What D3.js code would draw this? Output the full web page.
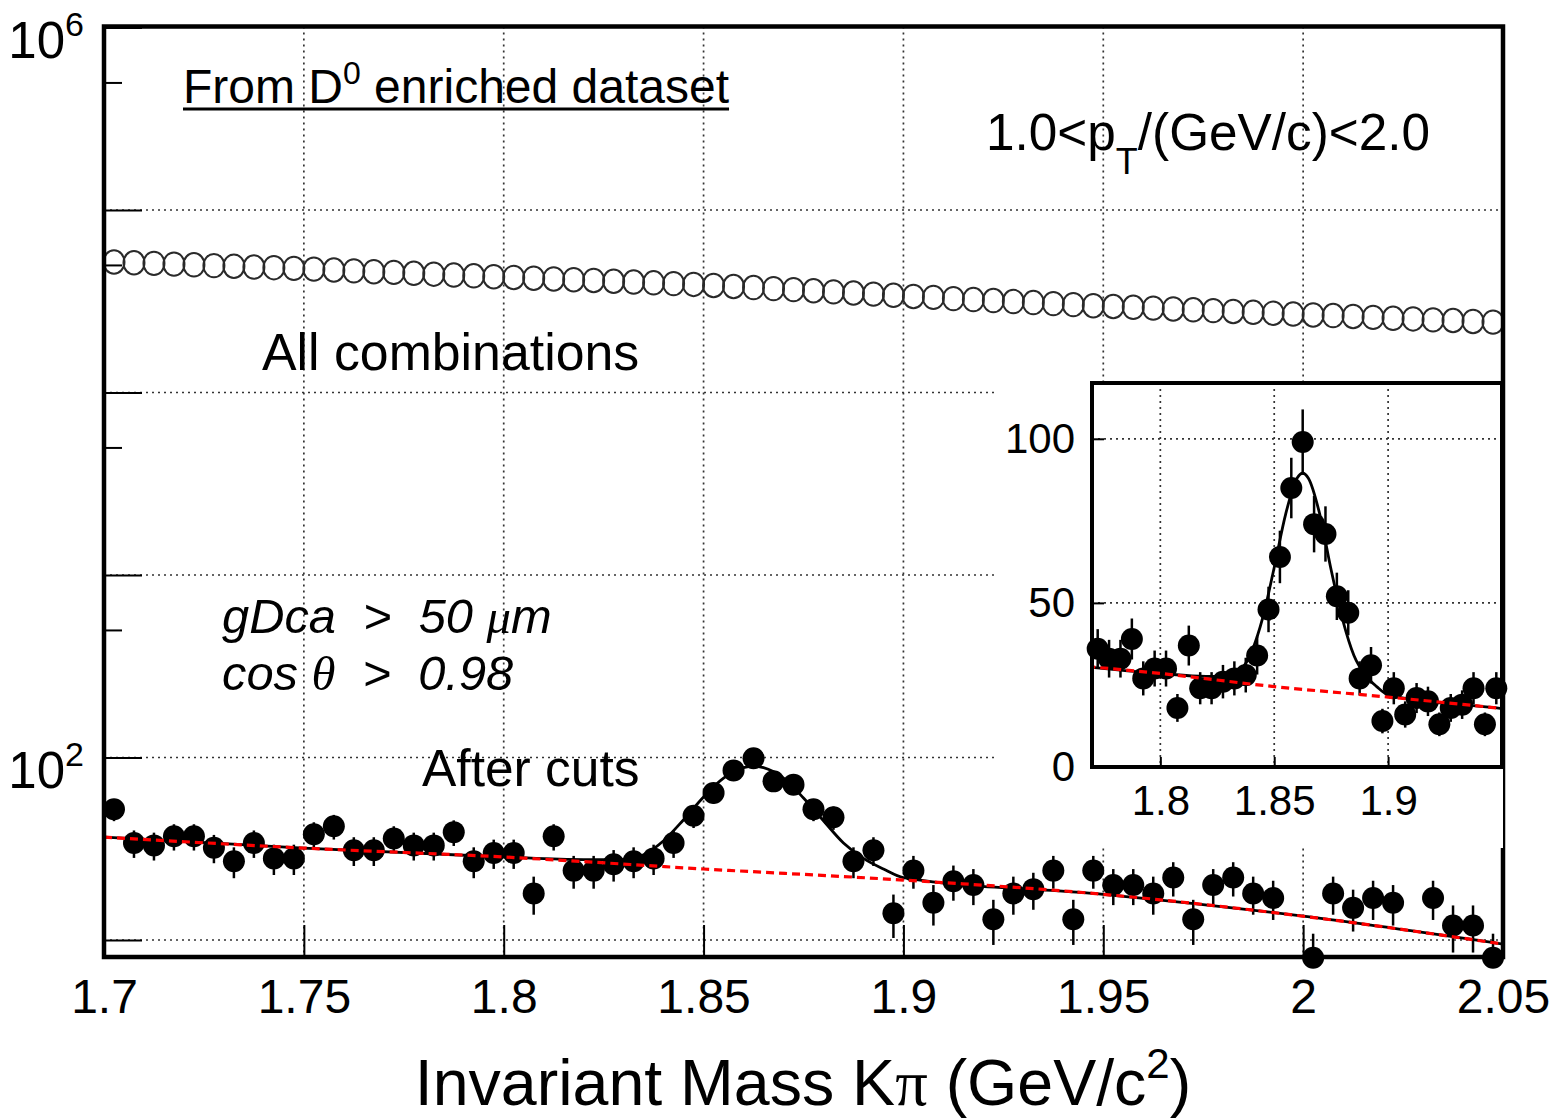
<!DOCTYPE html>
<html>
<head>
<meta charset="utf-8">
<script src="https://cdn.jsdelivr.net/npm/d3@7"></script>
<style>
body { margin: 0; background: #fff; }
text { font-family: "Liberation Sans", Arial, Helvetica, sans-serif; fill: #000; }
</style>
</head>
<body>
<svg width="1566" height="1118"></svg>
<script>
// bin centres, GeV/c^2 (0.005 wide bins)
var massBins = [
  1.7025, 1.7075, 1.7125, 1.7175, 1.7225, 1.7275, 1.7325, 1.7375, 1.7425, 1.7475,
  1.7525, 1.7575, 1.7625, 1.7675, 1.7725, 1.7775, 1.7825, 1.7875, 1.7925, 1.7975,
  1.8025, 1.8075, 1.8125, 1.8175, 1.8225, 1.8275, 1.8325, 1.8375, 1.8425, 1.8475,
  1.8525, 1.8575, 1.8625, 1.8675, 1.8725, 1.8775, 1.8825, 1.8875, 1.8925, 1.8975,
  1.9025, 1.9075, 1.9125, 1.9175, 1.9225, 1.9275, 1.9325, 1.9375, 1.9425, 1.9475,
  1.9525, 1.9575, 1.9625, 1.9675, 1.9725, 1.9775, 1.9825, 1.9875, 1.9925, 1.9975,
  2.0025, 2.0075, 2.0125, 2.0175, 2.0225, 2.0275, 2.0325, 2.0375, 2.0425, 2.0475
];

// open circles: all K-pi combinations
var allCombos = [
  51900, 51400, 51000, 50500, 50100, 49600, 49200, 48700, 48300, 47900,
  47400, 46900, 46400, 45900, 45500, 45000, 44500, 44000, 43600, 43100,
  42700, 42300, 41900, 41500, 41100, 40700, 40300, 39900, 39500, 39100,
  38600, 38100, 37600, 37100, 36600, 36100, 35600, 35100, 34600, 34100,
  33600, 33200, 32700, 32300, 31900, 31500, 31100, 30700, 30300, 29900,
  29600, 29300, 29000, 28700, 28400, 28100, 27800, 27500, 27200, 26900,
  26600, 26400, 26100, 25800, 25500, 25300, 25000, 24800, 24500, 24300
];

// filled points: after cuts (null = empty bin)
var afterCuts = [
  52, 34, 33, 37, 37, 32, 27, 34, 28, 28,
  38, 42, 31, 31, 36, 33, 33, 39, 27, 30,
  30, 18, 37, 24, 24, 26, 27, 28, 34, 48,
  64, 85, 99, 74, 71, 52, 47, 27, 31, 14,
  24, 16, 21, 20, 13, 18, 19, 24, 13, 24,
  20, 20, 18, 22, 13, 20, 22, 18, 17, null,
  8, 18, 15, 17, 16, null, 17, 12, 12, 8
];

// fit curves
var fitMass  = [1.70, 1.75, 1.80, 1.82, 1.83, 1.835, 1.84, 1.845, 1.85, 1.855, 1.86, 1.8625, 1.865, 1.87, 1.875, 1.88, 1.885, 1.89, 1.895, 1.90, 1.95, 2.00, 2.05];
var fitTotal = [36.6, 31.9, 28.5, 27.6, 27.6, 29.3, 35, 45.6, 60.8, 77, 88, 89.5, 88, 77, 60, 45, 34, 28, 24.5, 22, 17.8, 13.5, 9.5];
var bgMass = [1.70, 1.75, 1.80, 1.85, 1.90, 1.95, 2.00, 2.05];
var bgVals = [36.6, 31.9, 28.5, 24.5, 21.3, 17.8, 13.5, 9.5];

var xTicks = [1.7, 1.75, 1.8, 1.85, 1.9, 1.95, 2, 2.05];
var xTickLabels = ["1.7", "1.75", "1.8", "1.85", "1.9", "1.95", "2", "2.05"];
var yMajor = [1e1, 1e2, 1e3, 1e4, 1e5, 1e6];
var yMinor = [5e1, 5e2, 5e3, 5e4, 5e5];
var yLabelled = [{v: 1e6, base: "10", exp: "6"}, {v: 1e2, base: "10", exp: "2"}];
var insetXTicks = [1.8, 1.85, 1.9];
var insetYTicks = [0, 50, 100];

var svg = d3.select("svg");
var frame = {left: 104, right: 1503, top: 26.5, bottom: 957};
var ins = {left: 1092, right: 1502, top: 383, bottom: 767};

var x = d3.scaleLinear().domain([1.7, 2.05]).range([frame.left, frame.right]);
var y = d3.scaleLog().domain([8.07, 1e6]).range([frame.bottom, 27.5]);
var xi = d3.scaleLinear().domain([1.77, 1.95]).range([ins.left, ins.right]);
var yi = d3.scaleLinear().domain([0, 117]).range([ins.bottom, ins.top]);

var points = massBins.map(function(m, i) { return {m: m, all: allCombos[i], cut: afterCuts[i]}; });
var cutPoints = points.filter(function(d) { return d.cut != null; });
var fitData = fitMass.map(function(m, i) { return {m: m, v: fitTotal[i]}; });
var bgData = bgMass.map(function(m, i) { return {m: m, v: bgVals[i]}; });

var defs = svg.append("defs");
defs.append("clipPath").attr("id", "mainClip").append("rect")
    .attr("x", frame.left).attr("y", frame.top)
    .attr("width", frame.right - frame.left).attr("height", frame.bottom - frame.top);
defs.append("clipPath").attr("id", "insClip").append("rect")
    .attr("x", ins.left).attr("y", ins.top)
    .attr("width", ins.right - ins.left).attr("height", ins.bottom - ins.top);

var gridStyle = function(sel) {
  sel.attr("stroke", "#333").attr("stroke-width", 1.7).attr("stroke-dasharray", "2,4");
};

// ---- main grid
var g = svg.append("g");
g.selectAll(".vgrid").data(xTicks.slice(1, -1)).enter().append("line")
    .attr("x1", function(d) { return x(d); }).attr("x2", function(d) { return x(d); })
    .attr("y1", frame.top).attr("y2", frame.bottom)
    .call(gridStyle);
g.selectAll(".hgrid").data(yMajor.slice(0, -1)).enter().append("line")
    .attr("x1", frame.left).attr("x2", frame.right)
    .attr("y1", function(d) { return y(d); }).attr("y2", function(d) { return y(d); })
    .call(gridStyle);

// ---- main axes (ticks inward)
var xAxis = g.append("g")
    .attr("transform", "translate(0," + frame.bottom + ")")
    .call(d3.axisBottom(x).tickValues(xTicks).tickSize(-32).tickPadding(22)
      .tickFormat(function(d, i) { return xTickLabels[i]; }));
xAxis.select(".domain").remove();
xAxis.selectAll("line").attr("stroke-width", 2);
xAxis.selectAll("text").attr("font-size", 48).attr("font-family", "Liberation Sans, Arial, sans-serif");

var yAxis = g.append("g")
    .attr("transform", "translate(" + frame.left + ",0)")
    .call(d3.axisLeft(y).tickValues(yMajor).tickSize(-38).tickFormat(""));
yAxis.select(".domain").remove();
yAxis.selectAll("line").attr("stroke-width", 2);
var yAxisMinor = g.append("g")
    .attr("transform", "translate(" + frame.left + ",0)")
    .call(d3.axisLeft(y).tickValues(yMinor).tickSize(-18).tickFormat(""));
yAxisMinor.select(".domain").remove();
yAxisMinor.selectAll("line").attr("stroke-width", 2);

var yl = g.selectAll(".ylab").data(yLabelled).enter().append("text")
    .attr("x", 84).attr("y", function(d) { return y(d.v) + 30; })
    .attr("text-anchor", "end").attr("font-size", 51);
yl.append("tspan").text(function(d) { return d.base; });
yl.append("tspan").attr("dy", -22).attr("font-size", 34).text(function(d) { return d.exp; });

// ---- open circles
g.append("g").selectAll("ellipse").data(points).enter().append("ellipse")
    .attr("cx", function(d) { return x(d.m); })
    .attr("cy", function(d) { return y(d.all); })
    .attr("rx", 10.5).attr("ry", 11.7)
    .attr("fill", "none").attr("stroke", "#2a2a2a").attr("stroke-width", 2);

// ---- filled points with poisson error bars
g.append("g").attr("clip-path", "url(#mainClip)")
  .selectAll("line").data(cutPoints).enter().append("line")
    .attr("x1", function(d) { return x(d.m); }).attr("x2", function(d) { return x(d.m); })
    .attr("y1", function(d) { return y(Math.max(d.cut - Math.sqrt(d.cut), 1)); })
    .attr("y2", function(d) { return y(d.cut + Math.sqrt(d.cut)); })
    .attr("stroke", "#000").attr("stroke-width", 2.5);
g.append("g").selectAll("circle").data(cutPoints).enter().append("circle")
    .attr("cx", function(d) { return x(d.m); })
    .attr("cy", function(d) { return y(d.cut); })
    .attr("r", 11).attr("fill", "#000");

// ---- fit curves
var fitLine = d3.line().x(function(d) { return x(d.m); }).y(function(d) { return y(d.v); }).curve(d3.curveMonotoneX);
var curves = g.append("g").attr("clip-path", "url(#mainClip)");
curves.append("path").datum(fitData).attr("d", fitLine)
    .attr("fill", "none").attr("stroke", "#000").attr("stroke-width", 2.8);
curves.append("path").datum(bgData).attr("d", fitLine)
    .attr("fill", "none").attr("stroke", "#f00").attr("stroke-width", 3.2).attr("stroke-dasharray", "8,5");

// ---- frame
g.append("rect")
    .attr("x", frame.left).attr("y", frame.top)
    .attr("width", frame.right - frame.left).attr("height", frame.bottom - frame.top)
    .attr("fill", "none").attr("stroke", "#000").attr("stroke-width", 4.5);

// ---- labels
var t1 = svg.append("text").attr("x", 183).attr("y", 103).attr("font-size", 48);
t1.append("tspan").text("From D");
t1.append("tspan").attr("dy", -19).attr("font-size", 32).text("0");
t1.append("tspan").attr("dy", 19).text(" enriched dataset");
var t1w = t1.node().getComputedTextLength();
svg.append("line").attr("x1", 183).attr("x2", 183 + t1w).attr("y1", 109).attr("y2", 109)
    .attr("stroke", "#000").attr("stroke-width", 3);

var t2 = svg.append("text").attr("x", 986).attr("y", 150).attr("font-size", 51.3);
t2.append("tspan").text("1.0<p");
t2.append("tspan").attr("dy", 24).attr("font-size", 36).text("T");
t2.append("tspan").attr("dy", -24).text("/(GeV/c)<2.0");

svg.append("text").attr("x", 262).attr("y", 370).attr("font-size", 51.8).text("All combinations");
svg.append("text").attr("x", 422).attr("y", 786).attr("font-size", 51.5).text("After cuts");

var t3 = svg.append("text").attr("x", 222).attr("y", 633).attr("font-size", 48.8).attr("font-style", "italic")
    .attr("xml:space", "preserve");
t3.append("tspan").text("gDca  >  50 ");
t3.append("tspan").attr("font-family", "Liberation Serif, serif").text("\u03bc");
t3.append("tspan").text("m");
var t4 = svg.append("text").attr("x", 222).attr("y", 690).attr("font-size", 48.8).attr("font-style", "italic")
    .attr("xml:space", "preserve");
t4.append("tspan").text("cos ");
t4.append("tspan").attr("font-family", "Liberation Serif, serif").text("\u03b8");
t4.append("tspan").text("  >  0.98");

var xt = svg.append("text").attr("x", 803).attr("y", 1105).attr("font-size", 64.5).attr("text-anchor", "middle");
xt.append("tspan").text("Invariant Mass K");
xt.append("tspan").attr("font-family", "Liberation Serif, serif").text("\u03c0");
xt.append("tspan").text(" (GeV/c");
xt.append("tspan").attr("dy", -27).attr("font-size", 42).text("2");
xt.append("tspan").attr("dy", 27).text(")");

// ---- inset
var gi = svg.append("g");
gi.append("rect").attr("x", 997).attr("y", 381).attr("width", 1503 - 997).attr("height", 848 - 381).attr("fill", "#fff");
gi.selectAll(".ivgrid").data(insetXTicks).enter().append("line")
    .attr("x1", function(d) { return xi(d); }).attr("x2", function(d) { return xi(d); })
    .attr("y1", ins.top).attr("y2", ins.bottom).call(gridStyle);
gi.selectAll(".ihgrid").data(insetYTicks.slice(1)).enter().append("line")
    .attr("x1", ins.left).attr("x2", ins.right)
    .attr("y1", function(d) { return yi(d); }).attr("y2", function(d) { return yi(d); }).call(gridStyle);

var xiAxis = gi.append("g").attr("transform", "translate(0," + ins.bottom + ")")
    .call(d3.axisBottom(xi).tickValues(insetXTicks).tickSize(-10).tickPadding(18).tickFormat(function(d) { return String(d); }));
xiAxis.select(".domain").remove();
xiAxis.selectAll("line").attr("stroke-width", 2);
xiAxis.selectAll("text").attr("font-size", 42).attr("font-family", "Liberation Sans, Arial, sans-serif");
var yiAxis = gi.append("g").attr("transform", "translate(" + ins.left + ",0)")
    .call(d3.axisLeft(yi).tickValues(insetYTicks).tickSize(-12).tickPadding(17).tickFormat(function(d) { return String(d); }));
yiAxis.select(".domain").remove();
yiAxis.selectAll("line").attr("stroke-width", 2);
yiAxis.selectAll("text").attr("font-size", 42).attr("font-family", "Liberation Sans, Arial, sans-serif");

var insPoints = cutPoints.filter(function(d) { return d.m > 1.77 && d.m < 1.95; });
gi.append("g").attr("clip-path", "url(#insClip)")
  .selectAll("line").data(insPoints).enter().append("line")
    .attr("x1", function(d) { return xi(d.m); }).attr("x2", function(d) { return xi(d.m); })
    .attr("y1", function(d) { return yi(d.cut - Math.sqrt(d.cut)); })
    .attr("y2", function(d) { return yi(d.cut + Math.sqrt(d.cut)); })
    .attr("stroke", "#000").attr("stroke-width", 2.5);
gi.append("g").selectAll("circle").data(insPoints).enter().append("circle")
    .attr("cx", function(d) { return xi(d.m); })
    .attr("cy", function(d) { return yi(d.cut); })
    .attr("r", 11).attr("fill", "#000");

var insLine = d3.line().x(function(d) { return xi(d.m); }).y(function(d) { return yi(d.v); }).curve(d3.curveMonotoneX);
var ic = gi.append("g").attr("clip-path", "url(#insClip)");
ic.append("path").datum(fitData).attr("d", insLine)
    .attr("fill", "none").attr("stroke", "#000").attr("stroke-width", 2.8);
ic.append("path").datum(bgData).attr("d", insLine)
    .attr("fill", "none").attr("stroke", "#f00").attr("stroke-width", 3.2).attr("stroke-dasharray", "8,5");

gi.append("rect")
    .attr("x", ins.left).attr("y", ins.top)
    .attr("width", ins.right - ins.left).attr("height", ins.bottom - ins.top)
    .attr("fill", "none").attr("stroke", "#000").attr("stroke-width", 4);
</script>
</body>
</html>
